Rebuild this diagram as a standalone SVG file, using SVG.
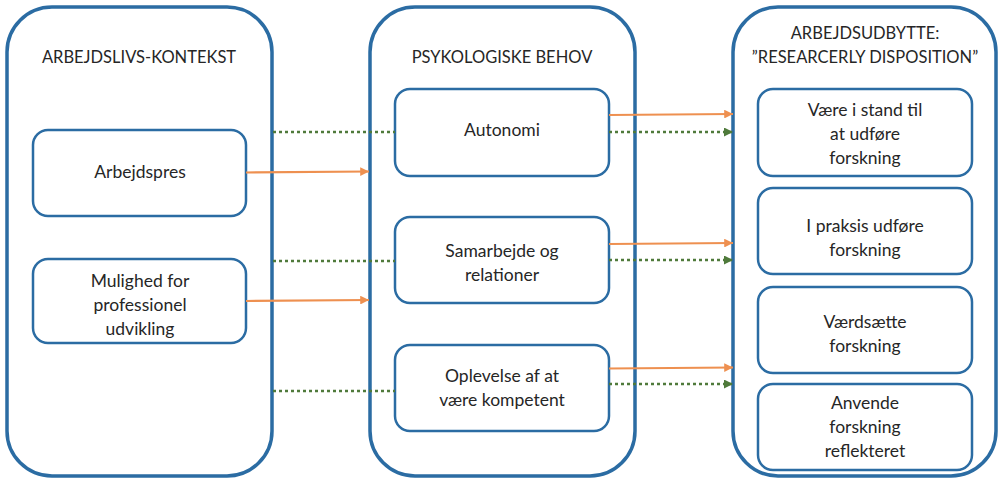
<svg xmlns="http://www.w3.org/2000/svg" width="998" height="481" viewBox="0 0 998 481">
<defs>
<style>
.outer{fill:#fff;stroke:#2b6ca3;stroke-width:3.5}
.inner{fill:#fff;stroke:#2b6ca3;stroke-width:2.5}
text{font-family:Lato,"Liberation Sans",sans-serif;font-size:17.5px;fill:#262626;text-anchor:middle}
text.t{font-size:16.5px}
.or{stroke:#ee9050;stroke-width:2.2;fill:none}
.gr{stroke:#4f7a3b;stroke-width:2.5;stroke-dasharray:3 3;fill:none}
</style>
<marker id="ao" viewBox="0 0 10 10" refX="10" refY="5" markerWidth="4" markerHeight="4" orient="auto" markerUnits="strokeWidth"><path d="M0,0L10,5L0,10z" fill="#ee9050"/></marker>
<marker id="ag" viewBox="0 0 10 10" refX="10" refY="5" markerWidth="3.6" markerHeight="3.6" orient="auto" markerUnits="strokeWidth"><path d="M0,0L10,5L0,10z" fill="#4f7a3b"/></marker>
</defs>
<g id="col-left">
<rect class="outer" x="7" y="7" width="265" height="469" rx="45"/>
<text class="t" x="139" y="63">ARBEJDSLIVS-KONTEKST</text>
</g>
<g id="col-mid">
<rect class="outer" x="370" y="7" width="265" height="469" rx="45"/>
<text class="t" x="502" y="63">PSYKOLOGISKE BEHOV</text>
</g>
<g id="col-right">
<rect class="outer" x="733" y="7" width="263" height="469" rx="45"/>
<text class="t" x="865" y="39">ARBEJDSUDBYTTE:</text>
<text class="t" x="865" y="63">”RESEARCERLY DISPOSITION”</text>
</g>
<g id="arbejdspres">
<rect class="inner" x="33" y="130" width="213" height="86" rx="15"/>
<text x="140" y="178">Arbejdspres</text>
</g>
<g id="mulighed">
<rect class="inner" x="33" y="259" width="213" height="84" rx="15"/>
<text x="140" y="287">Mulighed for</text>
<text x="140" y="311">professionel</text>
<text x="140" y="335">udvikling</text>
</g>
<g id="autonomi">
<rect class="inner" x="395" y="89" width="214" height="87" rx="15"/>
<text x="502" y="136">Autonomi</text>
</g>
<g id="samarbejde">
<rect class="inner" x="395" y="217" width="214" height="86" rx="15"/>
<text x="502" y="257">Samarbejde og</text>
<text x="502" y="281">relationer</text>
</g>
<g id="oplevelse">
<rect class="inner" x="395" y="345" width="214" height="86" rx="15"/>
<text x="502" y="382">Oplevelse af at</text>
<text x="502" y="406">være kompetent</text>
</g>
<g id="vaere">
<rect class="inner" x="758" y="89" width="214" height="87" rx="15"/>
<text x="865" y="116">Være i stand til</text>
<text x="865" y="140">at udføre</text>
<text x="865" y="164">forskning</text>
</g>
<g id="praksis">
<rect class="inner" x="758" y="188" width="214" height="86" rx="15"/>
<text x="865" y="232">I praksis udføre</text>
<text x="865" y="256">forskning</text>
</g>
<g id="vaerdsaette">
<rect class="inner" x="758" y="287" width="214" height="86" rx="15"/>
<text x="865" y="328">Værdsætte</text>
<text x="865" y="352">forskning</text>
</g>
<g id="anvende">
<rect class="inner" x="758" y="384" width="214" height="86" rx="15"/>
<text x="865" y="409">Anvende</text>
<text x="865" y="433">forskning</text>
<text x="865" y="457">reflekteret</text>
</g>
<g id="connectors">
<line class="gr" x1="273" y1="132" x2="395" y2="132"/>
<line class="gr" x1="273" y1="261" x2="395" y2="261"/>
<line class="gr" x1="273" y1="391" x2="395" y2="391"/>
<line class="or" x1="246" y1="172.5" x2="369" y2="171.5" marker-end="url(#ao)"/>
<line class="or" x1="246" y1="301" x2="369" y2="300" marker-end="url(#ao)"/>
<line class="or" x1="609" y1="115" x2="733" y2="114" marker-end="url(#ao)"/>
<line class="or" x1="609" y1="244" x2="733" y2="243" marker-end="url(#ao)"/>
<line class="or" x1="609" y1="368.5" x2="733" y2="367.5" marker-end="url(#ao)"/>
<line class="gr" x1="609" y1="132" x2="733" y2="132" marker-end="url(#ag)"/>
<line class="gr" x1="609" y1="260" x2="733" y2="260" marker-end="url(#ag)"/>
<line class="gr" x1="609" y1="384" x2="733" y2="384" marker-end="url(#ag)"/>
</g>
</svg>
